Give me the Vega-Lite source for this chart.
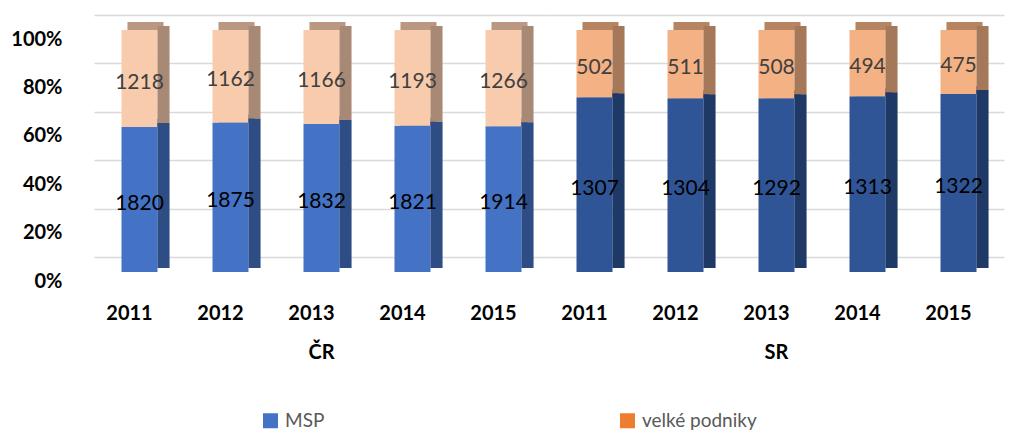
{
  "$schema": "https://vega.github.io/schema/vega-lite/v6.json",
  "padding": {"left": 10, "top": 15, "right": 5, "bottom": 2},
  "data": {
    "values": [
      {"country": "ČR", "year": "2011", "type": "MSP", "series": "ČR MSP", "count": 1820},
      {"country": "ČR", "year": "2011", "type": "velké podniky", "series": "ČR velké podniky", "count": 1218},
      {"country": "ČR", "year": "2012", "type": "MSP", "series": "ČR MSP", "count": 1875},
      {"country": "ČR", "year": "2012", "type": "velké podniky", "series": "ČR velké podniky", "count": 1162},
      {"country": "ČR", "year": "2013", "type": "MSP", "series": "ČR MSP", "count": 1832},
      {"country": "ČR", "year": "2013", "type": "velké podniky", "series": "ČR velké podniky", "count": 1166},
      {"country": "ČR", "year": "2014", "type": "MSP", "series": "ČR MSP", "count": 1821},
      {"country": "ČR", "year": "2014", "type": "velké podniky", "series": "ČR velké podniky", "count": 1193},
      {"country": "ČR", "year": "2015", "type": "MSP", "series": "ČR MSP", "count": 1914},
      {"country": "ČR", "year": "2015", "type": "velké podniky", "series": "ČR velké podniky", "count": 1266},
      {"country": "SR", "year": "2011", "type": "MSP", "series": "SR MSP", "count": 1307},
      {"country": "SR", "year": "2011", "type": "velké podniky", "series": "SR velké podniky", "count": 502},
      {"country": "SR", "year": "2012", "type": "MSP", "series": "SR MSP", "count": 1304},
      {"country": "SR", "year": "2012", "type": "velké podniky", "series": "SR velké podniky", "count": 511},
      {"country": "SR", "year": "2013", "type": "MSP", "series": "SR MSP", "count": 1292},
      {"country": "SR", "year": "2013", "type": "velké podniky", "series": "SR velké podniky", "count": 508},
      {"country": "SR", "year": "2014", "type": "MSP", "series": "SR MSP", "count": 1313},
      {"country": "SR", "year": "2014", "type": "velké podniky", "series": "SR velké podniky", "count": 494},
      {"country": "SR", "year": "2015", "type": "MSP", "series": "SR MSP", "count": 1322},
      {"country": "SR", "year": "2015", "type": "velké podniky", "series": "SR velké podniky", "count": 475}
    ]
  },
  "facet": {
    "column": {
      "field": "country",
      "type": "nominal",
      "sort": ["ČR", "SR"],
      "header": {
        "title": null,
        "labelOrient": "bottom",
        "labelFont": "Lato",
        "labelFontSize": 20,
        "labelFontWeight": "bold",
        "labelColor": "#000000",
        "labelPadding": 20
      }
    }
  },
  "spacing": 0,
  "spec": {
    "width": 455,
    "height": 242,
    "layer": [
      {
        "mark": {"type": "tick", "thickness": 8, "opacity": 1, "xOffset": 6, "yOffset": 11},
        "encoding": {
          "x": {
            "field": "year",
            "type": "ordinal",
            "title": null,
            "scale": {"paddingInner": 0, "paddingOuter": 0},
            "axis": {
              "domain": false,
              "ticks": false,
              "labelAngle": 0,
              "labelFont": "Lato",
              "labelFontSize": 20,
              "labelFontWeight": "bold",
              "labelColor": "#000000",
              "labelPadding": 31,
              "labelOffset": -10
            }
          },
          "y": {
            "field": "count",
            "type": "quantitative",
            "stack": "normalize",
            "title": null,
            "scale": {"domain": [0, 1]},
            "axis": {
              "values": [0, 0.2, 0.4, 0.6, 0.8, 1],
              "format": ".0%",
              "domain": false,
              "ticks": false,
              "labelFont": "Lato",
              "labelFontSize": 20,
              "labelFontWeight": "bold",
              "labelColor": "#000000",
              "labelPadding": 32,
              "labelOffset": 24,
              "grid": true,
              "gridColor": "#D9D9D9",
              "gridWidth": 1.6
            }
          },
          "color": {
            "field": "series",
            "type": "nominal",
            "scale": {
              "domain": ["MSP", "velké podniky", "ČR MSP", "ČR velké podniky", "SR MSP", "SR velké podniky"],
              "range": ["#4472C4", "#ED7D31", "#4472C4", "#F8CBAD", "#2F5597", "#F4B183"]
            },
            "legend": {
              "values": ["MSP", "velké podniky"],
              "title": null,
              "orient": "none",
              "legendX": 167,
              "legendY": 396,
              "direction": "horizontal",
              "columns": 2,
              "columnPadding": 293,
              "symbolType": "square",
              "symbolSize": 225,
              "symbolStrokeWidth": 0,
              "symbolOpacity": 1,
              "labelFont": "Lato",
              "labelFontSize": 19,
              "labelColor": "#595959",
              "labelOffset": 5,
              "padding": 0
            }
          },
          "size": {"value": 36},
          "order": {"field": "type", "sort": "ascending"}
        }
      },
      {
        "mark": {"type": "tick", "thickness": 8, "color": "#000000", "opacity": 0.25, "xOffset": 6, "yOffset": 11},
        "encoding": {
          "x": {"field": "year", "type": "ordinal"},
          "y": {"field": "count", "type": "quantitative", "stack": "normalize"},
          "detail": {"field": "type"},
          "size": {"value": 36},
          "order": {"field": "type", "sort": "ascending"}
        }
      },
      {
        "mark": {"type": "bar", "width": 36, "yOffset": 15, "y2Offset": 15},
        "encoding": {
          "x": {"field": "year", "type": "ordinal"},
          "y": {"field": "count", "type": "quantitative", "stack": "normalize"},
          "color": {"field": "series", "type": "nominal"},
          "order": {"field": "type", "sort": "ascending"}
        }
      },
      {
        "mark": {"type": "bar", "width": 12, "xOffset": 24, "yOffset": 11, "y2Offset": 11},
        "encoding": {
          "x": {"field": "year", "type": "ordinal"},
          "y": {"field": "count", "type": "quantitative", "stack": "normalize"},
          "color": {"field": "series", "type": "nominal"},
          "order": {"field": "type", "sort": "ascending"}
        }
      },
      {
        "mark": {"type": "bar", "width": 12, "xOffset": 24, "yOffset": 11, "y2Offset": 11, "color": "#000000", "opacity": 0.32},
        "encoding": {
          "x": {"field": "year", "type": "ordinal"},
          "y": {"field": "count", "type": "quantitative", "stack": "normalize"},
          "detail": {"field": "type"},
          "order": {"field": "type", "sort": "ascending"}
        }
      },
      {
        "mark": {"type": "text", "font": "Lato", "fontSize": 21, "baseline": "middle", "align": "center", "yOffset": 19},
        "encoding": {
          "x": {"field": "year", "type": "ordinal"},
          "y": {"field": "count", "type": "quantitative", "stack": "normalize", "bandPosition": 0.5},
          "fill": {
            "field": "type",
            "type": "nominal",
            "scale": {"domain": ["MSP", "velké podniky"], "range": ["#000000", "#404040"]},
            "legend": null
          },
          "detail": {"field": "type"},
          "order": {"field": "type", "sort": "ascending"},
          "text": {"field": "count", "type": "quantitative"}
        }
      }
    ]
  },
  "config": {
    "view": {"stroke": null},
    "font": "Lato"
  }
}
